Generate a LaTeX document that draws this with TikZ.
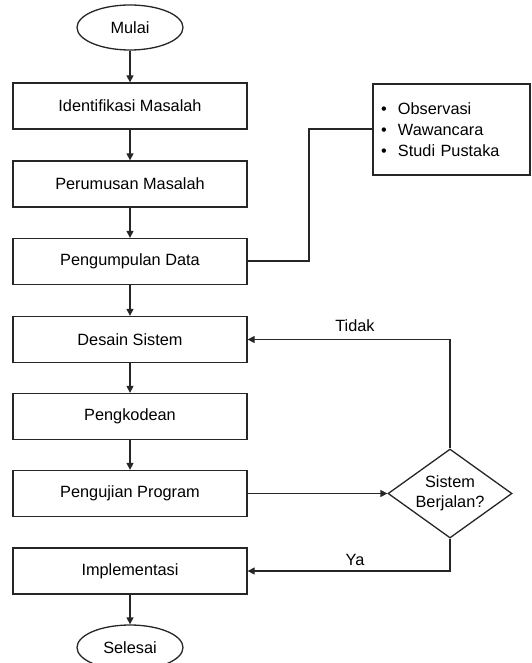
\documentclass[tikz,border=0pt]{standalone}
\usepackage{fontspec}
\setmainfont{Liberation Sans}
\usetikzlibrary{shapes.geometric,arrows.meta}
\tikzset{
  lc/.style={draw=black!85, line width=1.3pt},
  procbox/.style={lc, rectangle, minimum width=234pt, minimum height=46pt, inner sep=0pt, font=\fontsize{16.3}{20}\selectfont},
  term/.style={lc, ellipse, minimum width=106pt, minimum height=45pt, inner sep=0pt, font=\fontsize{16.3}{20}\selectfont},
  decis/.style={lc, diamond, minimum width=124pt, minimum height=89pt, inner sep=0pt, aspect=1.39, align=center, font=\fontsize{16.3}{20}\selectfont},
  notebox/.style={lc, rectangle, minimum height=91pt, inner xsep=8pt, inner ysep=0pt, text width=141pt, align=left, font=\fontsize{16.3}{21}\selectfont},
  flow/.style={lc, -{Triangle[width=7pt,length=7pt]}},
  lbl/.style={font=\fontsize{16.3}{20}\selectfont}
}
\begin{document}
\begin{tikzpicture}[x=1pt,y=-1pt]
\useasboundingbox (0,0) rectangle (531,663);
\clip (0,0) rectangle (531,663);
\node[term] (mulai) at (130,27.5) {Mulai};
\node[procbox] (b1) at (130,106) {Identifikasi Masalah};
\node[procbox] (b2) at (130,184) {Perumusan Masalah};
\node[procbox] (b3) at (130,261.5) {Pengumpulan Data};
\node[procbox] (b4) at (130,339.5) {Desain Sistem};
\node[procbox] (b5) at (130,416.5) {Pengkodean};
\node[procbox] (b6) at (130,493.5) {Pengujian Program};
\node[procbox] (b7) at (130,571) {Implementasi};
\node[term] (selesai) at (130,647.5) {Selesai};
\node[decis] (dec) at (450,493.5) {Sistem\\Berjalan?};
\node[notebox] (note) at (451.5,129.5) {%
  \makebox[17pt][l]{\textbullet}Observasi\\
  \makebox[17pt][l]{\textbullet}Wawancara\\
  \makebox[17pt][l]{\textbullet}Studi Pustaka};
\coordinate (c1) at (309,261);
\coordinate (c2) at (309,129);
\coordinate (t1) at (450,339.5);
\coordinate (y1) at (450,571);

\draw[flow] (mulai) -- (b1);
\draw[flow] (b1) -- (b2);
\draw[flow] (b2) -- (b3);
\draw[flow] (b3) -- (b4);
\draw[flow] (b4) -- (b5);
\draw[flow] (b5) -- (b6);
\draw[flow] (b7) -- (selesai);
\draw[flow] (b6) -- (dec);
\draw[lc] (b3.east |- c1) -- (c1) -- (c2) -- (note.west |- c2);
\draw[flow] (dec.north) -- (t1) -- (b4.east);
\draw[flow] (dec.south) -- (y1) -- (b7.east);
\node[lbl] (tidak) at (355,326) {Tidak};
\node[lbl] (ya) at (355,560) {Ya};
\end{tikzpicture}
\end{document}
